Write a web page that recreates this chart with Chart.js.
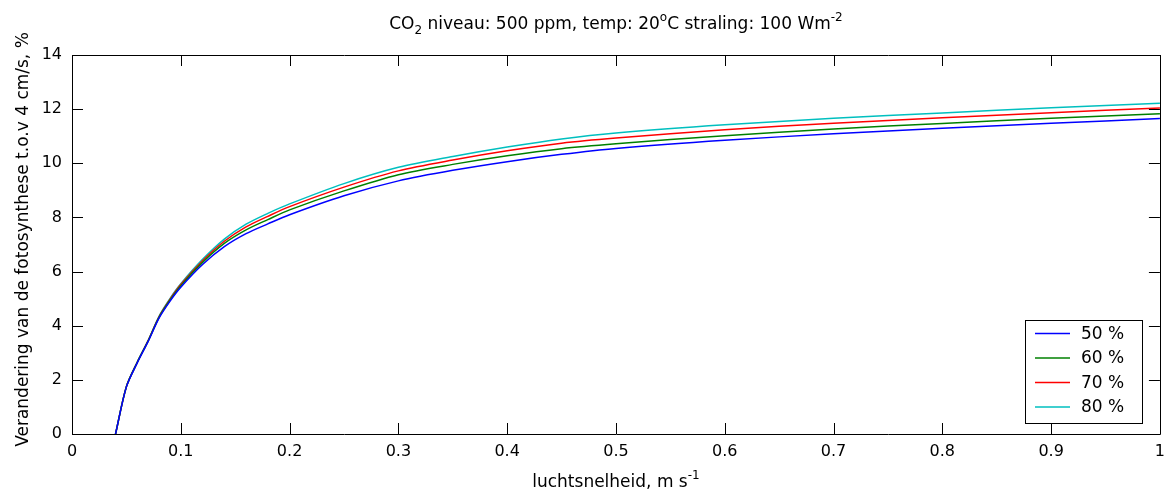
<!DOCTYPE html>
<html>
<head>
<meta charset="UTF-8">
<title>luchtsnelheid</title>
<script src="https://cdn.jsdelivr.net/npm/chart.js@4.4.1/dist/chart.umd.min.js"></script>
<style>
  html, body {
    margin: 0;
    padding: 0;
    background: #fff;
  }
  #box {
    width: 1165px;
    height: 492px;
  }
</style>
</head>
<body>
<div id="box"><canvas id="mychart"></canvas></div>
<script>

// airspeed, m/s
const speedList = [0.04, 0.05, 0.06, 0.07, 0.08, 0.09, 0.10, 0.12, 0.14, 0.16, 0.18, 0.20,
  0.25, 0.30, 0.35, 0.40, 0.45, 0.50, 0.60, 0.70, 0.80, 0.90, 1.00];
// change of photosynthesis vs 4 cm/s, %
const rh50List = [0, 1.74, 2.63, 3.42, 4.28, 4.90, 5.42, 6.26, 6.92, 7.40, 7.76, 8.10,
  8.80, 9.35, 9.74, 10.06, 10.33, 10.55, 10.85, 11.09, 11.29, 11.48, 11.65];
const rh60List = [0, 1.75, 2.65, 3.44, 4.31, 4.94, 5.48, 6.34, 7.04, 7.54, 7.92, 8.28,
  8.98, 9.58, 9.96, 10.28, 10.54, 10.72, 11.02, 11.27, 11.47, 11.66, 11.83];
const rh70List = [0, 1.75, 2.65, 3.45, 4.33, 4.97, 5.52, 6.40, 7.12, 7.65, 8.04, 8.40,
  9.12, 9.72, 10.12, 10.46, 10.74, 10.93, 11.24, 11.48, 11.68, 11.87, 12.04];
const rh80List = [0, 1.75, 2.65, 3.45, 4.35, 5.00, 5.55, 6.45, 7.20, 7.75, 8.15, 8.50,
  9.25, 9.85, 10.25, 10.60, 10.90, 11.12, 11.42, 11.66, 11.86, 12.05, 12.22];
const seriesLabels = ['50 %', '60 %', '70 %', '80 %'];
const seriesColors = ['#0000ff', '#008000', '#ff0000', '#00bfbf'];

const X_MIN = 0, X_MAX = 1, X_STEP = 0.1;
const Y_MIN = 0, Y_MAX = 14, Y_STEP = 2;

const FONT = '"DejaVu Sans", Arial, sans-serif';
const tickFontSize = 16;
const labelFontSize = 17;
const TICK_LEN = 11;

function toPoints(list) {
  return speedList.map((s, i) => ({x: s, y: list[i]}));
}

// draw text with sub/superscript parts: [{t, sub}, {t, sup}]
function richWidth(ctx, parts, size) {
  let w = 0;
  parts.forEach(p => {
    ctx.font = ((p.sub || p.sup) ? Math.round(size * 0.72) : size) + 'px ' + FONT;
    w += ctx.measureText(p.t).width;
  });
  return w;
}

function drawRich(ctx, parts, x, y, size) {
  let w = richWidth(ctx, parts, size);
  let cx = x - w / 2;
  ctx.textAlign = 'left';
  ctx.textBaseline = 'alphabetic';
  parts.forEach(p => {
    let small = p.sub || p.sup;
    ctx.font = (small ? Math.round(size * 0.72) : size) + 'px ' + FONT;
    let dy = p.sub ? size * 0.3 : (p.sup ? -size * 0.45 : 0);
    ctx.fillText(p.t, cx, y + dy);
    cx += ctx.measureText(p.t).width;
  });
}

const titleParts = [
  {t: 'CO'}, {t: '2', sub: true}, {t: ' niveau: 500 ppm, temp: 20'},
  {t: 'o', sup: true}, {t: 'C straling: 100 Wm'}, {t: '-2', sup: true}
];
const xLabelParts = [{t: 'luchtsnelheid, m s'}, {t: '-1', sup: true}];
const yLabelParts = [{t: 'Verandering van de fotosynthese t.o.v 4 cm/s, %'}];

const matlabFrame = {
  id: 'matlabFrame',
  afterDraw(chart) {
    const ctx = chart.ctx;
    const a = chart.chartArea;
    const xs = chart.scales.x;
    const ys = chart.scales.y;
    ctx.save();
    ctx.strokeStyle = '#000';
    ctx.lineWidth = 1;
    ctx.beginPath();
    ctx.rect(Math.round(a.left) + 0.5, Math.round(a.top) + 0.5,
      Math.round(a.right - a.left), Math.round(a.bottom - a.top));
    xs.ticks.forEach(t => {
      let px = Math.round(xs.getPixelForValue(t.value)) + 0.5;
      ctx.moveTo(px, a.bottom); ctx.lineTo(px, a.bottom - TICK_LEN);
      ctx.moveTo(px, a.top); ctx.lineTo(px, a.top + TICK_LEN);
    });
    ys.ticks.forEach(t => {
      let py = Math.round(ys.getPixelForValue(t.value)) + 0.5;
      ctx.moveTo(a.left, py); ctx.lineTo(a.left + TICK_LEN, py);
      ctx.moveTo(a.right, py); ctx.lineTo(a.right - TICK_LEN, py);
    });
    ctx.stroke();

    // title and axis labels
    ctx.fillStyle = '#000';
    let midX = (a.left + a.right) / 2;
    drawRich(ctx, titleParts, midX, 29, labelFontSize);
    drawRich(ctx, xLabelParts, midX, 487, labelFontSize);
    ctx.save();
    ctx.translate(28, (a.top + a.bottom) / 2 - 5);
    ctx.rotate(-Math.PI / 2);
    drawRich(ctx, yLabelParts, 0, 0, labelFontSize);
    ctx.restore();

    // legend
    const bw = 117, bh = 103;
    const bx = Math.round(a.right) - 18 - bw;
    const by = Math.round(a.bottom) - 11 - bh;
    ctx.fillStyle = '#fff';
    ctx.fillRect(bx, by, bw, bh);
    ctx.strokeStyle = '#000';
    ctx.strokeRect(bx + 0.5, by + 0.5, bw, bh);
    ctx.font = labelFontSize + 'px ' + FONT;
    ctx.textBaseline = 'middle';
    ctx.textAlign = 'left';
    chart.data.datasets.forEach((ds, i) => {
      let ly = by + 13.5 + i * 24.5;
      ctx.strokeStyle = ds.borderColor;
      ctx.lineWidth = 1.5;
      ctx.beginPath();
      ctx.moveTo(bx + 10, ly); ctx.lineTo(bx + 45, ly);
      ctx.stroke();
      ctx.fillStyle = '#000';
      ctx.fillText(ds.label, bx + 56, ly + 1);
    });
    ctx.restore();
  }
};

const ctx = document.getElementById('mychart');
const myChart = new Chart(ctx, {
  type: 'line',
  data: {
    datasets: [rh50List, rh60List, rh70List, rh80List].map((list, i) => ({
      label: seriesLabels[i],
      data: toPoints(list),
      borderColor: seriesColors[i],
      backgroundColor: seriesColors[i],
      borderWidth: 1.5,
      pointRadius: 0,
      tension: 0.3,
      fill: false,
    })),
  },
  options: {
    responsive: true,
    maintainAspectRatio: false,
    animation: false,
    layout: {
      autoPadding: false,
      padding: {top: 55, right: 0, left: 0, bottom: 0},
    },
    plugins: {
      legend: {display: false},
      title: {display: false},
      tooltip: {enabled: false},
    },
    scales: {
      x: {
        type: 'linear',
        min: X_MIN,
        max: X_MAX,
        grid: {display: false},
        border: {display: false},
        afterFit(scale) { scale.height = 58; },
        ticks: {
          stepSize: X_STEP,
          padding: 0,
          color: '#000',
          font: {family: FONT, size: tickFontSize},
          callback: v => String(Number(v.toFixed(1))),
        },
      },
      y: {
        min: Y_MIN,
        max: Y_MAX,
        grid: {display: false},
        border: {display: false},
        afterFit(scale) { scale.width = 72; },
        ticks: {
          stepSize: Y_STEP,
          padding: 2,
          color: '#000',
          font: {family: FONT, size: tickFontSize},
        },
      },
    },
  },
  plugins: [matlabFrame],
});
</script>
</body>
</html>
